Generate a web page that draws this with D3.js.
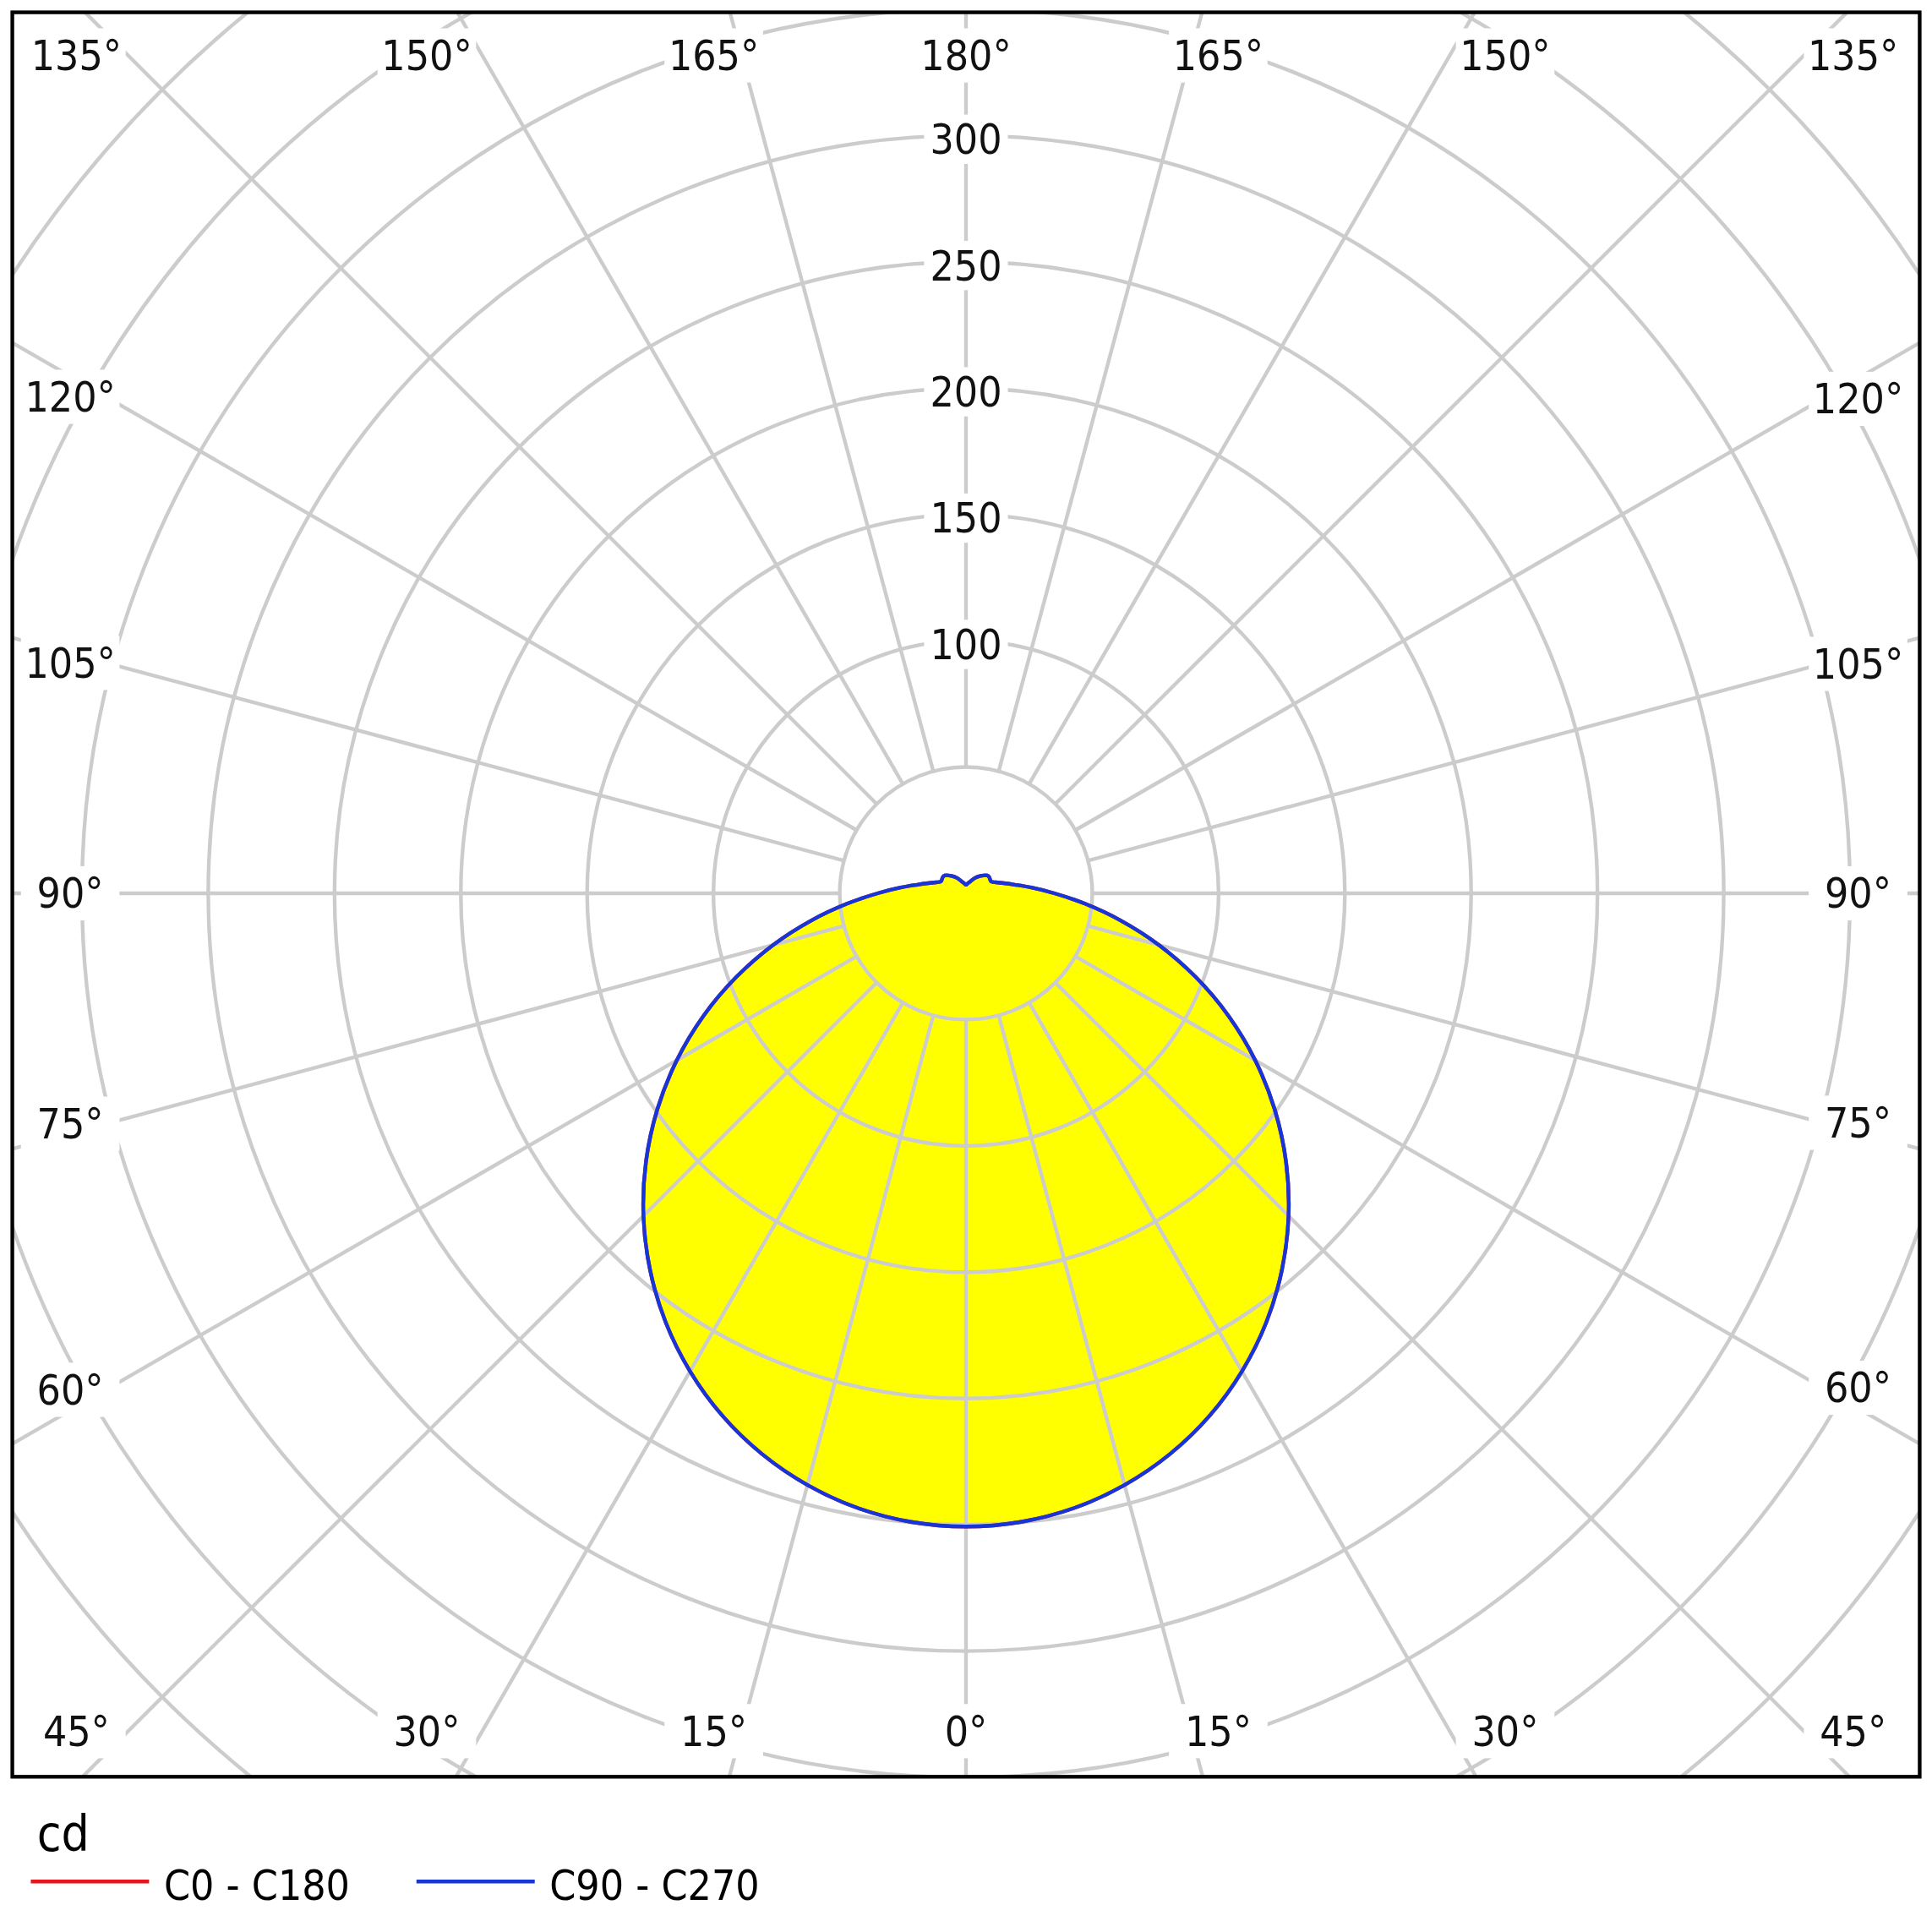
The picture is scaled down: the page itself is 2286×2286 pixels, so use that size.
<!DOCTYPE html>
<html><head><meta charset="utf-8">
<script src="https://cdn.jsdelivr.net/npm/d3@7"></script>
<style>body{margin:0;background:#fff}</style>
</head><body>
<svg id="chart"></svg>
<script>
// polar luminous intensity diagram (cd)
const gammaAngles = [0,5,10,15,20,25,30,35,40,45,50,55,60,65,70,75,80,85,90,95,100,105,110,115,120,125,130,140,150,160,170,180];
const c0c180 = [250.7,249.8,247.1,242.5,236.2,228.2,218.5,207.3,194.6,180.6,165.4,149.2,132.2,114.6,96.7,79.1,62.3,47.3,35,26,19.6,15.5,12.7,11,11,11.2,11,9,7,5,4,3.4];
const c90c270 = [250.7,249.8,247.1,242.5,236.2,228.2,218.5,207.3,194.6,180.6,165.4,149.2,132.2,114.6,96.7,79.1,62.3,47.3,35,26,19.6,15.5,12.7,11,11,11.2,11,9,7,5,4,3.4];
const ringValues = [50,100,150,200,250,300,350,400,450];
const ringLabels = [100,150,200,250,300];
const spokeAngles = d3.range(0, 360, 15);
const angleLabels = [0,15,30,45,60,75,90,105,120,135,150,165,180];
const legendItems = [{name:'C0 - C180', color:'#e8141c'}, {name:'C90 - C270', color:'#1736d8'}];

const W = 1568, H = 1568;
const svg = d3.select('#chart').attr('width', 2286).attr('height', 2286).attr('viewBox', `0 0 ${W} ${H}`);
const frame = {x0: 10, y0: 10, x1: 1558, y1: 1442};
const cx = 784, cy = 725;
const r = d3.scaleLinear().domain([0, 300]).range([0, 615]);
const font = 'DejaVu Sans Condensed';

const defs = svg.append('defs');
defs.append('clipPath').attr('id', 'clip')
  .append('rect').attr('x', frame.x0).attr('y', frame.y0)
  .attr('width', frame.x1 - frame.x0).attr('height', frame.y1 - frame.y0);
const g = svg.append('g').attr('clip-path', 'url(#clip)');

const pt = (gam, v, side) => {
  const a = gam * Math.PI / 180;
  return [cx + side * r(v) * Math.sin(a), cy + r(v) * Math.cos(a)];
};
const curvePts = vals => {
  const right = gammaAngles.map((a, i) => pt(a, vals[i], 1));
  const left = gammaAngles.slice(1, -1).map((a, i) => pt(a, vals[i + 1], -1)).reverse();
  return right.concat(left);
};
const line = d3.line().curve(d3.curveCatmullRomClosed);

function drawGrid(sel) {
  sel.selectAll('circle.ring').data(ringValues).join('circle').attr('class', 'ring')
    .attr('cx', cx).attr('cy', cy).attr('r', d => r(d))
    .attr('fill', 'none').attr('stroke', '#cccccc').attr('stroke-width', 3);
  sel.selectAll('line.spoke').data(spokeAngles).join('line').attr('class', 'spoke')
    .attr('x1', d => cx + r(50) * Math.sin(d * Math.PI / 180))
    .attr('y1', d => cy + r(50) * Math.cos(d * Math.PI / 180))
    .attr('x2', d => cx + 1200 * Math.sin(d * Math.PI / 180))
    .attr('y2', d => cy + 1200 * Math.cos(d * Math.PI / 180))
    .attr('stroke', '#cccccc').attr('stroke-width', 3);
}
drawGrid(g);

g.append('path').attr('d', line(curvePts(c90c270))).attr('fill', '#ffff00');
defs.append('clipPath').attr('id', 'fillclip').append('path').attr('d', line(curvePts(c90c270)));
drawGrid(g.append('g').attr('clip-path', 'url(#fillclip)'));
g.append('path').attr('d', line(curvePts(c0c180))).attr('fill', 'none').attr('stroke', legendItems[0].color).attr('stroke-width', 3);
g.append('path').attr('d', line(curvePts(c90c270))).attr('fill', 'none').attr('stroke', legendItems[1].color).attr('stroke-width', 3);

// ring value labels
const lab = svg.append('g').attr('font-family', font).attr('font-size', 34).attr('fill', '#111');
ringLabels.forEach(v => {
  const y = cy - r(v) + 3;
  lab.append('rect').attr('x', cx - 34).attr('y', y - 20).attr('width', 68).attr('height', 40).attr('fill', '#fff');
  lab.append('text').attr('x', cx).attr('y', y).attr('text-anchor', 'middle').attr('dy', '0.35em').text(v);
});

// angle labels where spokes meet an inset box
const box = {x0: 57, x1: 1508, y0: 45, y1: 1405};
angleLabels.forEach(a => {
  [1, -1].forEach(side => {
    if ((a === 0 || a === 180) && side === -1) return;
    const rad = a * Math.PI / 180;
    const dx = side * Math.sin(rad), dy = Math.cos(rad);
    let t = Infinity, edge = '';
    const tryT = (tt, e) => { if (tt < t) { t = tt; edge = e; } };
    if (dx > 1e-6) tryT((box.x1 - cx) / dx, 'side');
    if (dx < -1e-6) tryT((box.x0 - cx) / dx, 'side');
    if (dy > 1e-6) tryT((box.y1 - cy) / dy, 'tb');
    if (dy < -1e-6) tryT((box.y0 - cy) / dy, 'tb');
    let x = cx + t * dx, y = cy + t * dy;
    if (edge === 'tb') {
      const off = a <= 90 ? a : 180 - a;
      x += side * 1.5 * off;
      x = Math.max(62, Math.min(1504, x));
    } else {
      y += (cy - y) * 0.04;
    }
    lab.append('rect').attr('x', x - 40).attr('y', y - 22).attr('width', 80).attr('height', 44).attr('fill', '#fff');
    lab.append('text').attr('x', x).attr('y', y).attr('text-anchor', 'middle').attr('dy', '0.35em').text(a + '°');
  });
});

// frame
svg.append('rect').attr('x', frame.x0).attr('y', frame.y0)
  .attr('width', frame.x1 - frame.x0).attr('height', frame.y1 - frame.y0)
  .attr('fill', 'none').attr('stroke', '#000').attr('stroke-width', 3);

// legend
svg.append('text').attr('x', 30).attr('y', 1502).attr('font-family', font).attr('font-size', 40).text('cd');
const lx = [25, 338];
legendItems.forEach((d, i) => {
  svg.append('line').attr('x1', lx[i]).attr('x2', lx[i] + 96).attr('y1', 1527).attr('y2', 1527)
    .attr('stroke', d.color).attr('stroke-width', 3);
  svg.append('text').attr('x', lx[i] + 108).attr('y', 1530).attr('dy', '0.35em')
    .attr('font-family', font).attr('font-size', 34).text(d.name);
});
</script>
</body></html>
